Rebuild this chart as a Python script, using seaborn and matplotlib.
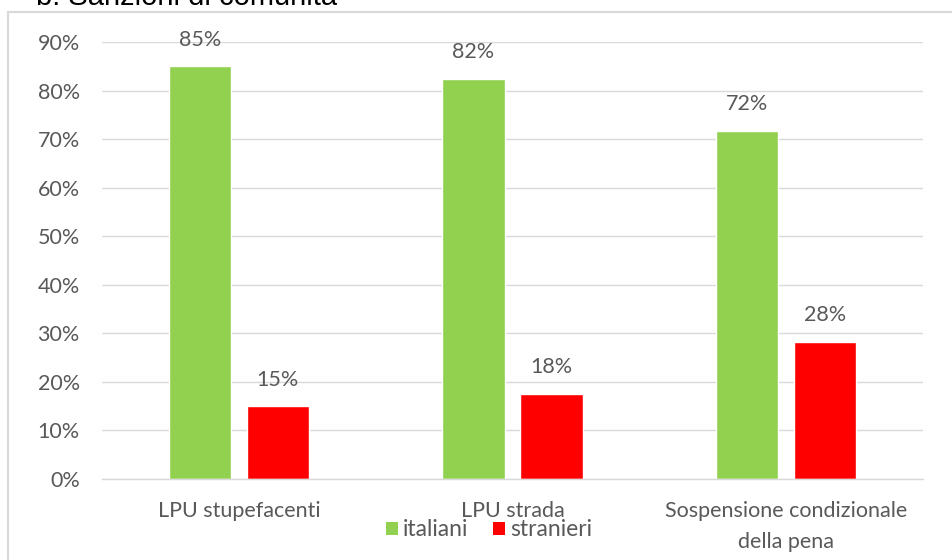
import matplotlib
matplotlib.use("Agg")
import matplotlib.pyplot as plt
import seaborn as sns
import pandas as pd
from matplotlib.patches import Rectangle, Patch

categories = ["LPU stupefacenti", "LPU strada", "Sospensione condizionale\ndella pena"]
italiani = [85.0, 82.4, 71.7]
stranieri = [15.0, 17.6, 28.3]
series_names = ["italiani", "stranieri"]
colors = ["#92D050", "#FF0000"]
yticks = [0, 10, 20, 30, 40, 50, 60, 70, 80, 90]

df = pd.DataFrame({
    "categoria": categories * 2,
    "valore": italiani + stranieri,
    "gruppo": [series_names[0]] * 3 + [series_names[1]] * 3,
})

sns.set_theme(style="white")
plt.rcParams["font.family"] = ["Lato", "DejaVu Sans"]

fig = plt.figure(figsize=(9.53, 5.6), dpi=100)
ax = fig.add_axes([102/953, 1 - 479/560, (923-102)/953, (479-42)/560])

sns.barplot(data=df, x="categoria", y="valore", hue="gruppo",
            palette=colors, width=0.570, gap=0.205, ax=ax,
            legend=False, saturation=1)

ax.set_ylim(0, 90)
ax.set_xlim(-0.5, 2.5)
ax.set_yticks(yticks)
ax.set_yticklabels([f"{t}%" for t in yticks])
ax.grid(axis="y", color="#D9D9D9", linewidth=1)
ax.set_axisbelow(True)
for s in ["top", "right", "left"]:
    ax.spines[s].set_visible(False)
ax.spines["bottom"].set_color("#D9D9D9")
ax.spines["bottom"].set_linewidth(1)
ax.tick_params(axis="both", length=0, colors="#595959", labelsize=15.5)
ax.tick_params(axis="y", pad=16)
ax.tick_params(axis="x", pad=16)
for lbl in ax.get_xticklabels():
    lbl.set_linespacing(1.65)
ax.set_xlabel("")
ax.set_ylabel("")

for cont in ax.containers:
    ax.bar_label(cont, labels=[f"{v:.0f}%" for v in cont.datavalues],
                 padding=12, color="#595959", fontsize=15.5)

handles = [Patch(facecolor=c, edgecolor="none") for c in colors]
fig.legend(handles, series_names, loc="center", bbox_to_anchor=(489/953, 1 - 530/560),
           ncol=2, frameon=False, fontsize=16.5, handlelength=0.52, handleheight=0.52,
           handletextpad=0.22, columnspacing=1.1, labelcolor="#595959")

fig.patches.append(Rectangle((8/953, -0.1), 1.2, 1 - 12/560 + 0.1, transform=fig.transFigure,
                             fill=False, edgecolor="#D9D9D9", linewidth=1.5))
fig.text(36/953, 1 - 5/560, "b. Sanzioni di comunità", fontsize=21,
         family=["Liberation Sans", "DejaVu Sans"], color="black", va="baseline", ha="left")

fig.savefig("out.png", dpi=100)
